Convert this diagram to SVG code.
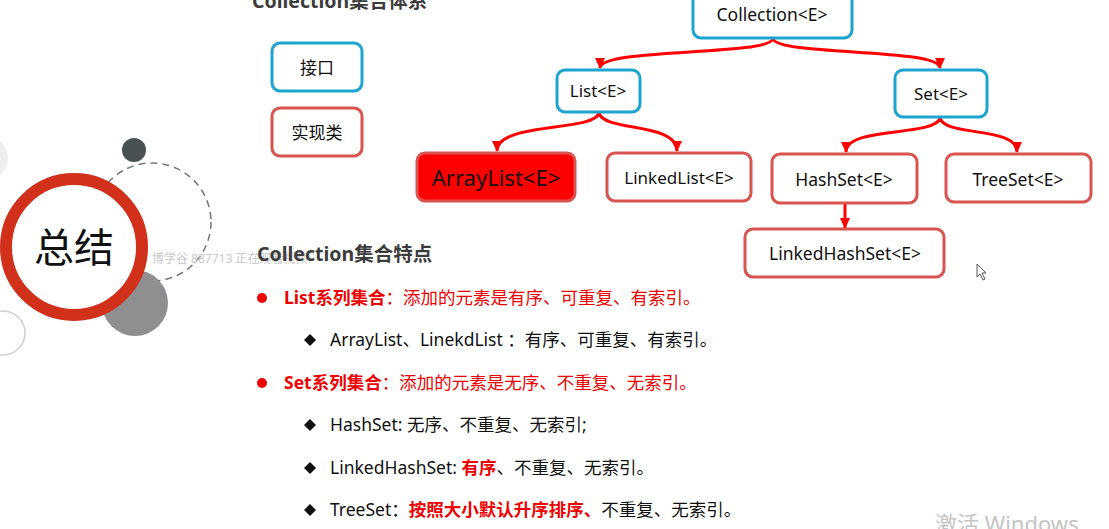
<svg xmlns="http://www.w3.org/2000/svg" width="1109" height="529" viewBox="0 0 1109 529">
<style>
.t{font-family:"Noto Sans","Noto Sans CJK SC",sans-serif}
.node text{font-family:"Noto Sans","Noto Sans CJK SC",sans-serif;font-size:17px;fill:#111;text-anchor:middle;dominant-baseline:central}
.iface rect{fill:#fff;stroke:#1ea5cf;stroke-width:3}
.impl rect{fill:#fff;stroke:#d9534f;stroke-width:3}
.conn path{fill:none;stroke:#ff0000;stroke-width:3}
.head{font-family:"Noto Sans","Noto Sans CJK SC",sans-serif;font-size:19.5px;font-weight:bold;fill:#3c3c3c}
.line{font-family:"Noto Sans","Noto Sans CJK SC",sans-serif;font-size:17.5px;fill:#111}
.red{fill:#ee0000}
.b{font-weight:bold}
</style>
<defs>
<marker id="arr" markerWidth="12" markerHeight="10" refX="10" refY="5" orient="auto" markerUnits="userSpaceOnUse">
<path d="M0,0 L11,5 L0,10 z" fill="#ff0000"/>
</marker>
</defs>
<rect width="1109" height="529" fill="#fff"/>

<g id="decor">
<circle cx="-14" cy="158" r="22" fill="#eeeeef"/>
<circle cx="3" cy="333" r="22" fill="#fff" stroke="#cfcfcf" stroke-width="1.5"/>
<circle cx="152" cy="222" r="59" fill="none" stroke="#777" stroke-width="1.5" stroke-dasharray="7 5"/>
<circle cx="134" cy="150" r="12" fill="#4a5152"/>
<circle cx="135" cy="303" r="33" fill="#8f8e90"/>
<circle cx="74" cy="247" r="68" fill="#fff" stroke="#d1301b" stroke-width="12"/>
<text class="t" x="74" y="262" font-size="40" text-anchor="middle" fill="#111">总结</text>
<text class="t" x="152" y="263" font-size="12" fill="#c8c8c8">博学谷 887713 正在观看视频</text>
</g>

<text class="head" x="252" y="8">Collection集合体系</text>

<g id="legend-interface" class="node iface"><rect x="272" y="43" width="90" height="48" rx="8"/><text x="317" y="67">接口</text></g>
<g id="legend-impl" class="node impl"><rect x="272" y="108" width="90" height="48" rx="8"/><text x="317" y="132">实现类</text></g>

<g id="connectors" class="conn">
<path d="M773,39 C766,56 600,48 600,68" marker-end="url(#arr)"/>
<path d="M773,39 C780,56 940,48 940,68" marker-end="url(#arr)"/>
<path d="M599,113 C594,132 497,122 497,151" marker-end="url(#arr)"/>
<path d="M599,113 C604,132 677,122 677,151" marker-end="url(#arr)"/>
<path d="M940,118 C935,137 846,126 846,152" marker-end="url(#arr)"/>
<path d="M940,118 C945,137 1017,126 1017,152" marker-end="url(#arr)"/>
<path d="M845,204 L845,228" marker-end="url(#arr)"/>
</g>

<g id="collection" class="node iface"><rect x="693" y="-8" width="159" height="46" rx="8"/><text x="772" y="14" style="font-size:17.5px">Collection&lt;E&gt;</text></g>
<g id="list" class="node iface"><rect x="557" y="70" width="83" height="42" rx="8"/><text x="598" y="90">List&lt;E&gt;</text></g>
<g id="set" class="node iface"><rect x="895" y="70" width="92" height="47" rx="8"/><text x="941" y="93">Set&lt;E&gt;</text></g>
<g id="arraylist" class="node"><rect x="417" y="153" width="158" height="48" rx="8" fill="#ff0000" stroke="#d9534f" stroke-width="3"/><text x="496" y="177" style="font-size:22px">ArrayList&lt;E&gt;</text></g>
<g id="linkedlist" class="node impl"><rect x="607" y="153" width="144" height="48" rx="8"/><text x="679" y="177">LinkedList&lt;E&gt;</text></g>
<g id="hashset" class="node impl"><rect x="772" y="154" width="145" height="49" rx="8"/><text x="844" y="179" style="font-size:17.5px">HashSet&lt;E&gt;</text></g>
<g id="treeset" class="node impl"><rect x="946" y="154" width="145" height="48" rx="8"/><text x="1018" y="179" style="font-size:17.5px">TreeSet&lt;E&gt;</text></g>
<g id="linkedhashset" class="node impl"><rect x="745" y="229" width="199" height="48" rx="8"/><text x="845" y="253" style="font-size:17.5px">LinkedHashSet&lt;E&gt;</text></g>

<path d="M977,264 L977,277 L980,274 L983,280 L985,279 L982,273 L986,273 Z" fill="#fff" stroke="#555" stroke-width="1"/>

<g id="features">
<text class="head" x="257" y="261">Collection集合特点</text>
<circle cx="262" cy="298" r="5" fill="#ee0000"/>
<text class="line red" x="284" y="304"><tspan class="b">List系列集合</tspan>：添加的元素是有序、可重复、有索引。</text>
<path d="M310,334 L316,340 L310,346 L304,340 Z" fill="#111"/>
<text class="line" x="330" y="346">ArrayList、LinekdList ：有序、可重复、有索引。</text>
<circle cx="262" cy="383" r="5" fill="#ee0000"/>
<text class="line red" x="284" y="389"><tspan class="b">Set系列集合</tspan>：添加的元素是无序、不重复、无索引。</text>
<path d="M310,419 L316,425 L310,431 L304,425 Z" fill="#111"/>
<text class="line" x="330" y="431">HashSet: 无序、不重复、无索引;</text>
<path d="M310,462 L316,468 L310,474 L304,468 Z" fill="#111"/>
<text class="line" x="330" y="474">LinkedHashSet: <tspan class="red b">有序</tspan>、不重复、无索引。</text>
<path d="M310,504 L316,510 L310,516 L304,510 Z" fill="#111"/>
<text class="line" x="330" y="516">TreeSet：<tspan class="red b">按照大小默认升序排序、</tspan>不重复、无索引。</text>
</g>

<text class="t" x="935" y="532" font-size="22" fill="#c4c4c4">激活 Windows</text>
</svg>
